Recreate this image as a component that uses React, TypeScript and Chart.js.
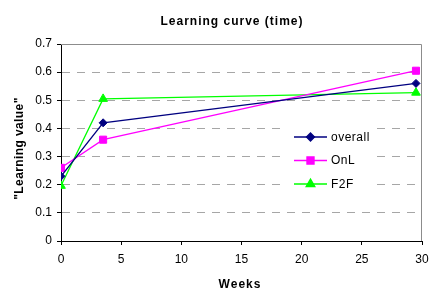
import React, { useEffect, useRef } from "react";
import Chart from "chart.js/auto";
import { drawPoint } from "chart.js/helpers";

const chartTitle = "Learning curve (time)";
const xTitle = "Weeks";
const yTitle = "\"Learning value\"";
const weeks = [0, 3.5, 29.5];
const overall = [0.23, 0.42, 0.56];
const onl = [0.26, 0.36, 0.605];
const f2f = [0.196, 0.505, 0.527];
const seriesNames = ["overall", "OnL", "F2F"];
const seriesColors = ["#000080", "#FF00FF", "#00FF00"];
const seriesMarkers = ["rectRot", "rect", "triangle"];
const seriesRadius = [4, 5, 5];

const FONT = "'Liberation Sans', Arial, sans-serif";

const overlayPlugin = {
  id: "overlay",
  beforeDatasetsDraw(chart: any) {
    const { ctx, chartArea: a } = chart;
    ctx.save();
    ctx.strokeStyle = "#8c8c8c";
    ctx.lineWidth = 1;
    ctx.beginPath();
    ctx.moveTo(a.left, a.top + 0.5);
    ctx.lineTo(a.right - 0.5, a.top + 0.5);
    ctx.lineTo(a.right - 0.5, a.bottom);
    ctx.stroke();
    ctx.restore();
  },
  afterDraw(chart: any) {
    const { ctx } = chart;
    ctx.save();
    ctx.fillStyle = "#000";
    ctx.font = `bold 12px ${FONT}`;
    (ctx as any).letterSpacing = "1px";
    ctx.textAlign = "center";
    ctx.textBaseline = "alphabetic";
    ctx.fillText(chartTitle, 232, 25);
    ctx.fillText(xTitle, 240, 288);
    ctx.save();
    (ctx as any).letterSpacing = "0.4px";
    ctx.translate(22.5, 148.5);
    ctx.rotate(-Math.PI / 2);
    ctx.fillText(yTitle, 0, 0);
    ctx.restore();

    // legend
    ctx.fillStyle = "#fff";
    ctx.fillRect(283, 123, 93, 75);
    const rows = [137, 160.5, 184];
    chart.data.datasets.forEach((ds: any, i: number) => {
      const y = rows[i];
      ctx.strokeStyle = ds.borderColor;
      ctx.lineWidth = 1.3;
      ctx.beginPath();
      ctx.moveTo(294, y);
      ctx.lineTo(327, y);
      ctx.stroke();
      ctx.fillStyle = ds.backgroundColor;
      ctx.strokeStyle = ds.borderColor;
      drawPoint(ctx, { pointStyle: ds.pointStyle, radius: ds.pointRadius, rotation: 0, borderWidth: 1 } as any, 310.5, y);
      ctx.fillStyle = "#000";
      ctx.font = `12px ${FONT}`;
      (ctx as any).letterSpacing = "0.5px";
      ctx.textAlign = "left";
      ctx.textBaseline = "middle";
      ctx.fillText(ds.label, 331, y + 0.5);
    });
    ctx.restore();
  },
};

export default function App() {
  const ref = useRef<HTMLCanvasElement>(null);
  useEffect(() => {
    document.body.style.margin = "0";
    const series = [overall, onl, f2f];
    const chart = new Chart(ref.current!, {
      type: "line",
      data: {
        datasets: series.map((vals, i) => ({
          label: seriesNames[i],
          data: weeks.map((w, j) => ({ x: w, y: vals[j] })),
          borderColor: seriesColors[i],
          backgroundColor: seriesColors[i],
          pointStyle: seriesMarkers[i] as any,
          pointRadius: seriesRadius[i],
          pointBorderWidth: 1,
          borderWidth: 1.3,
          tension: 0,
        })),
      },
      options: {
        responsive: false,
        animation: false,
        layout: { padding: { top: 44, right: 8, left: 0, bottom: 0 } },
        plugins: { legend: { display: false }, title: { display: false }, tooltip: { enabled: false } },
        scales: {
          x: {
            type: "linear",
            min: 0,
            max: 30,
            afterFit: (s: any) => { s.height = 48; s.paddingRight = 0; s.paddingLeft = 0; },
            ticks: { stepSize: 5, color: "#000", font: { size: 12, family: FONT }, padding: 7, maxRotation: 0 },
            grid: { drawOnChartArea: false, tickLength: 4, tickColor: "#000", tickBorderDash: [] },
            border: { color: "#000", width: 1 },
          },
          y: {
            min: 0,
            max: 0.7,
            afterFit: (s: any) => { s.width = 61; s.paddingTop = 0; s.paddingBottom = 0; },
            ticks: { stepSize: 0.1, color: "#000", font: { size: 12, family: FONT }, padding: 5,
              callback: (v: any) => (Math.round(Number(v) * 10) / 10).toString() },
            grid: { color: "#a6a6a6", tickLength: 4, tickColor: "#000", tickBorderDash: [], lineWidth: 1 },
            border: { color: "#000", width: 1, dash: [8, 7] },
          },
        },
      },
      plugins: [overlayPlugin],
    });
    return () => chart.destroy();
  }, []);
  return (
    <div style={{ width: 430, height: 289 }}>
      <canvas ref={ref} width={430} height={289} />
    </div>
  );
}
